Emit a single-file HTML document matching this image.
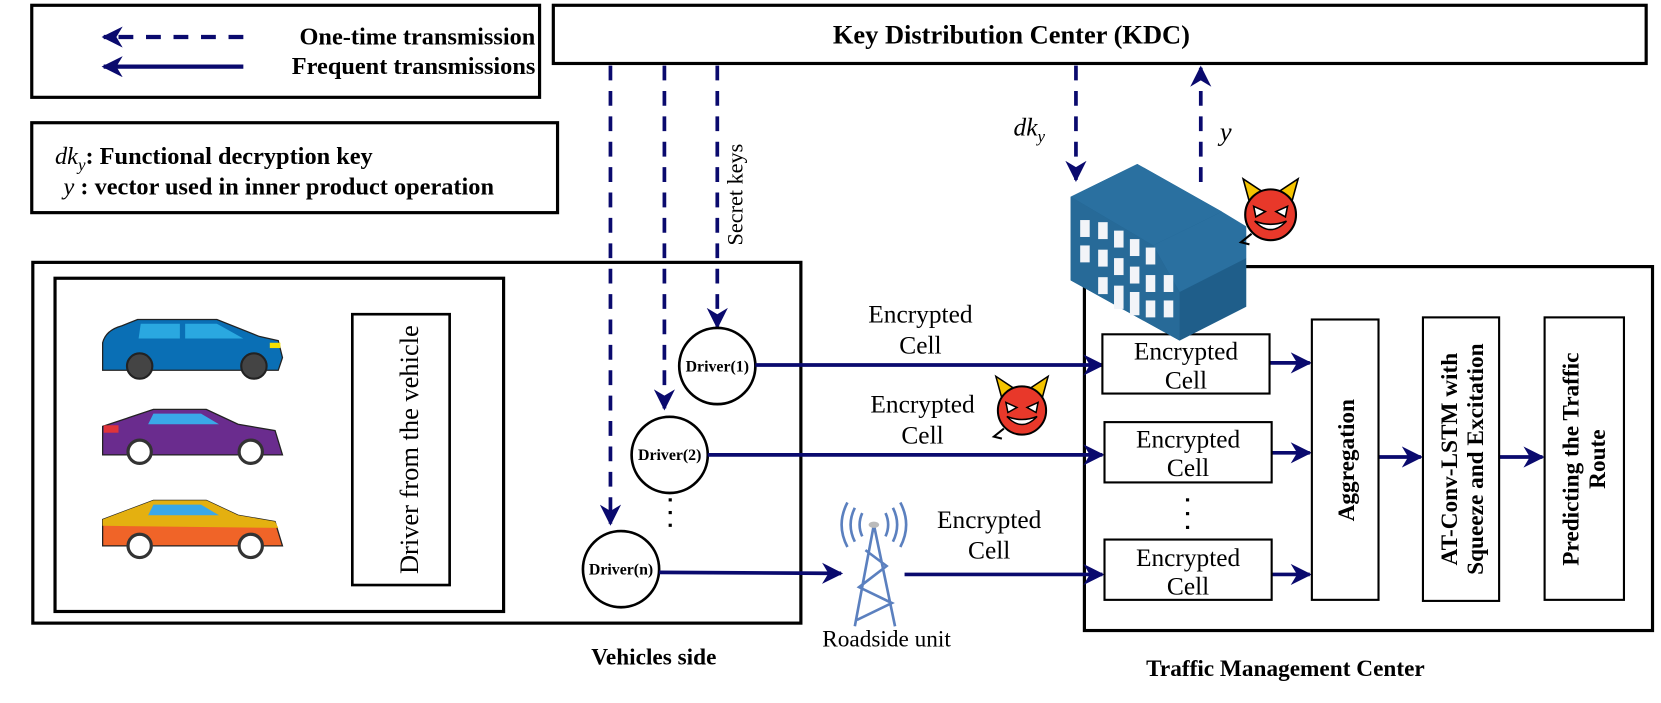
<!DOCTYPE html>
<html><head><meta charset="utf-8"><style>
html,body{margin:0;padding:0;background:#fff;}
svg{display:block;}
text{font-family:"Liberation Serif",serif;}
</style></head><body>
<svg width="1661" height="703" viewBox="0 0 1570 664.5" xmlns="http://www.w3.org/2000/svg">
<defs>
<marker id="ah" viewBox="0 0 20 20" refX="18" refY="10" markerWidth="20" markerHeight="20" markerUnits="userSpaceOnUse" orient="auto">
<path d="M0,0 L20,10 L0,20 L6,10 Z" fill="#0a0a6e"/>
</marker>
<g id="devil">
<path d="M-20,-12 L-26,-34 L-8,-22 Z" fill="#f5c400" stroke="#000" stroke-width="1.5"/>
<path d="M20,-12 L26,-34 L8,-22 Z" fill="#f5c400" stroke="#000" stroke-width="1.5"/>
<circle r="24" fill="#e8382a" stroke="#000" stroke-width="2"/>
<path d="M-16,-8 L-5,-3 L-14,2 Z M16,-8 L5,-3 L14,2 Z" fill="#fff" stroke="#000" stroke-width="1.5"/>
<path d="M-15,6 Q0,22 15,6 Q0,12 -15,6 Z" fill="#fff" stroke="#000" stroke-width="1.5"/>
<path d="M-18,18 L-28,26 L-20,28" fill="none" stroke="#000" stroke-width="2"/>
</g>
</defs>

<g fill="none" stroke="#000" stroke-width="3">
<rect x="30" y="5" width="480" height="87"/>
<rect x="30" y="116" width="497" height="85"/>
<rect x="523" y="5" width="1033" height="55"/>
<rect x="31" y="248" width="726" height="341"/>
<rect x="52" y="263" width="424" height="315"/>
<rect x="333" y="297" width="92" height="256" stroke-width="2.5"/>
<rect x="1025" y="252" width="537" height="344"/>
</g>

<!-- legend -->
<line x1="230" y1="35" x2="98" y2="35" stroke="#0a0a6e" stroke-width="4" stroke-dasharray="14,12" marker-end="url(#ah)"/>
<line x1="230" y1="63" x2="98" y2="63" stroke="#0a0a6e" stroke-width="4" marker-end="url(#ah)"/>
<text x="506" y="42" font-size="23" font-weight="bold" text-anchor="end">One-time transmission</text>
<text x="506" y="70" font-size="23" font-weight="bold" text-anchor="end">Frequent transmissions</text>
<text x="52" y="155" font-size="23"><tspan font-style="italic">dk</tspan><tspan font-style="italic" font-size="16" dy="6">y</tspan><tspan dy="-6" font-weight="bold">: Functional decryption key</tspan></text>
<text x="60" y="184" font-size="23"><tspan font-style="italic">y</tspan><tspan font-weight="bold">  : vector used in inner product operation</tspan></text>

<text x="956" y="41" font-size="25" font-weight="bold" text-anchor="middle">Key Distribution Center (KDC)</text>

<!-- dashed from KDC -->
<g stroke="#0a0a6e" stroke-width="3.5" stroke-dasharray="14,10" fill="none">
<line x1="577" y1="62" x2="577" y2="495" marker-end="url(#ah)"/>
<line x1="628" y1="62" x2="628" y2="386" marker-end="url(#ah)"/>
<line x1="678" y1="62" x2="678" y2="309" marker-end="url(#ah)"/>
<line x1="1017" y1="62" x2="1017" y2="170" marker-end="url(#ah)"/>
<line x1="1135" y1="172" x2="1135" y2="64" marker-end="url(#ah)"/>
</g>
<text x="702" y="232" font-size="21" transform="rotate(-90 702 232)">Secret keys</text>
<text x="958" y="128" font-size="24" font-style="italic">dk<tspan font-size="16" dy="6">y</tspan></text>
<text x="1153" y="133" font-size="25" font-style="italic">y</text>

<!-- cars -->
<g transform="translate(95,300)">
<path d="M2,24 Q5,12 20,8 L35,2 L110,2 L150,18 L168,22 L172,38 L168,50 L2,50 Z" fill="#0a6fb5" stroke="#222" stroke-width="1.2"/>
<path d="M38,6 L75,6 L75,20 L36,20 Z M80,6 L110,6 L135,20 L80,20 Z" fill="#2aa8e0"/>
<circle cx="37" cy="46" r="12" fill="#444" stroke="#222" stroke-width="2"/><circle cx="145" cy="46" r="12" fill="#444" stroke="#222" stroke-width="2"/>
<rect x="160" y="24" width="10" height="5" fill="#f5e000"/>
</g>
<g transform="translate(95,385)">
<path d="M2,18 L50,2 L100,2 L130,16 L165,22 L172,45 L2,45 Z" fill="#6a2c8e" stroke="#222" stroke-width="1.2"/>
<path d="M50,6 L95,6 L112,16 L45,16 Z" fill="#3aa8e8"/>
<circle cx="37" cy="42" r="11" fill="#fff" stroke="#333" stroke-width="3"/><circle cx="142" cy="42" r="11" fill="#fff" stroke="#333" stroke-width="3"/>
<rect x="3" y="17" width="14" height="7" fill="#e0343a"/>
</g>
<g transform="translate(95,471)">
<path d="M2,20 L50,2 L100,2 L130,16 L165,22 L172,45 L2,45 Z" fill="#f06428" stroke="#222" stroke-width="1.2"/>
<path d="M2,20 L50,2 L100,2 L130,16 L165,22 L168,28 L2,26 Z" fill="#e4b010"/>
<path d="M50,6 L95,6 L112,16 L45,16 Z" fill="#3aa8e8"/>
<circle cx="37" cy="45" r="11" fill="#fff" stroke="#333" stroke-width="3"/><circle cx="142" cy="45" r="11" fill="#fff" stroke="#333" stroke-width="3"/>
</g>
<text x="387" y="425" font-size="25" text-anchor="middle" transform="rotate(-90 387 425)" dy="8">Driver from the vehicle</text>

<!-- drivers -->
<g fill="#fff" stroke="#000" stroke-width="2.5">
<circle cx="678" cy="346" r="36"/>
<circle cx="633" cy="430" r="36"/>
<circle cx="587" cy="538" r="36"/>
</g>
<g font-size="15" font-weight="bold" text-anchor="middle">
<text x="678" y="351">Driver(1)</text>
<text x="633" y="435">Driver(2)</text>
<text x="587" y="543">Driver(n)</text>
</g>
<g fill="#000"><rect x="632" y="471" width="3" height="3"/><rect x="632" y="483" width="3" height="3"/><rect x="632" y="495" width="3" height="3"/></g>

<!-- horizontal arrows -->
<g stroke="#0a0a6e" stroke-width="3.5" fill="none">
<line x1="714" y1="345" x2="1042" y2="345" marker-end="url(#ah)"/>
<line x1="669" y1="430" x2="1042" y2="430" marker-end="url(#ah)"/>
<line x1="623" y1="541" x2="795" y2="542" marker-end="url(#ah)"/>
<line x1="855" y1="543" x2="1042" y2="543" marker-end="url(#ah)"/>
<line x1="1200" y1="343" x2="1238" y2="343" marker-end="url(#ah)"/>
<line x1="1200" y1="428" x2="1238" y2="428" marker-end="url(#ah)"/>
<line x1="1200" y1="543" x2="1238" y2="543" marker-end="url(#ah)"/>
<line x1="1303" y1="432" x2="1343" y2="432" marker-end="url(#ah)"/>
<line x1="1417" y1="432" x2="1458" y2="432" marker-end="url(#ah)"/>
</g>
<g font-size="24" text-anchor="middle">
<text x="870" y="305">Encrypted</text><text x="870" y="334">Cell</text>
<text x="872" y="390">Encrypted</text><text x="872" y="419">Cell</text>
<text x="935" y="499">Encrypted</text><text x="935" y="528">Cell</text>
</g>

<!-- tower -->
<g stroke="#5b80bf" stroke-width="2.5" fill="none">
<path d="M826,496 L808,592 M826,496 L846,592 M818,520 L838,535 L812,555 L843,570 L810,586"/>
<path d="M815,485 Q810,496 815,507 M837,485 Q842,496 837,507 M808,480 Q800,496 808,512 M844,480 Q852,496 844,512 M801,475 Q790,496 801,517 M851,475 Q862,496 851,517"/>
</g>
<ellipse cx="826" cy="496" rx="5" ry="3" fill="#bbb"/>
<text x="838" y="611" font-size="22" text-anchor="middle">Roadside unit</text>

<!-- TMC inner -->
<g fill="#fff" stroke="#000" stroke-width="2">
<rect x="1042" y="316" width="158" height="56"/>
<rect x="1044" y="399" width="158" height="57"/>
<rect x="1044" y="510" width="158" height="57"/>
<rect x="1240" y="302" width="63" height="265"/>
<rect x="1345" y="300" width="72" height="268"/>
<rect x="1460" y="300" width="75" height="267"/>
</g>
<g font-size="24" text-anchor="middle">
<text x="1121" y="340">Encrypted</text><text x="1121" y="367">Cell</text>
<text x="1123" y="423">Encrypted</text><text x="1123" y="450">Cell</text>
<text x="1123" y="535">Encrypted</text><text x="1123" y="562">Cell</text>
</g>
<g fill="#000"><rect x="1121" y="471" width="3" height="3"/><rect x="1121" y="484" width="3" height="3"/><rect x="1121" y="497" width="3" height="3"/></g>
<g font-size="22" font-weight="bold" text-anchor="middle">
<text transform="translate(1280,435) rotate(-90)">Aggregation</text>
<text transform="translate(1377,434) rotate(-90)">AT-Conv-LSTM with</text>
<text transform="translate(1402,434) rotate(-90)">Squeeze and Excitation</text>
<text transform="translate(1492,434) rotate(-90)">Predicting the Traffic</text>
<text transform="translate(1517,434) rotate(-90)">Route</text>
</g>

<!-- building -->
<g>
<path d="M1012,186 L1075,155 L1155,200 L1155,230 L1178,244 L1178,290 L1115,322 L1012,265 Z" fill="#1f5e8a"/>
<path d="M1012,186 L1075,155 L1155,200 L1090,232 Z" fill="#2a70a0"/>
<path d="M1090,232 L1155,200 L1178,214 L1178,244 L1115,276 Z" fill="#2a70a0"/>
<path d="M1012,186 L1090,232 L1115,276 L1115,322 L1012,265 Z" fill="#276a98"/>
<g fill="#f2f4f8">
<rect x="1021" y="208" width="9" height="16"/><rect x="1021" y="232" width="9" height="16"/>
<rect x="1038" y="210" width="9" height="16"/><rect x="1053" y="218" width="9" height="16"/><rect x="1068" y="226" width="9" height="16"/><rect x="1083" y="234" width="9" height="16"/>
<rect x="1038" y="236" width="9" height="16"/><rect x="1053" y="244" width="9" height="16"/><rect x="1068" y="252" width="9" height="16"/><rect x="1083" y="260" width="9" height="16"/>
<rect x="1038" y="262" width="9" height="16"/><rect x="1053" y="270" width="9" height="22"/><rect x="1068" y="276" width="9" height="22"/><rect x="1083" y="284" width="9" height="16"/>
<rect x="1100" y="260" width="9" height="16"/><rect x="1100" y="284" width="9" height="16"/>
</g>
</g>
<use href="#devil" transform="translate(1201,203)"/>
<use href="#devil" transform="translate(966,388) scale(0.95)"/>

<text x="618" y="628" font-size="22" font-weight="bold" text-anchor="middle">Vehicles side</text>
<text x="1215" y="639" font-size="22" font-weight="bold" text-anchor="middle">Traffic Management Center</text>
</svg>
</body></html>
